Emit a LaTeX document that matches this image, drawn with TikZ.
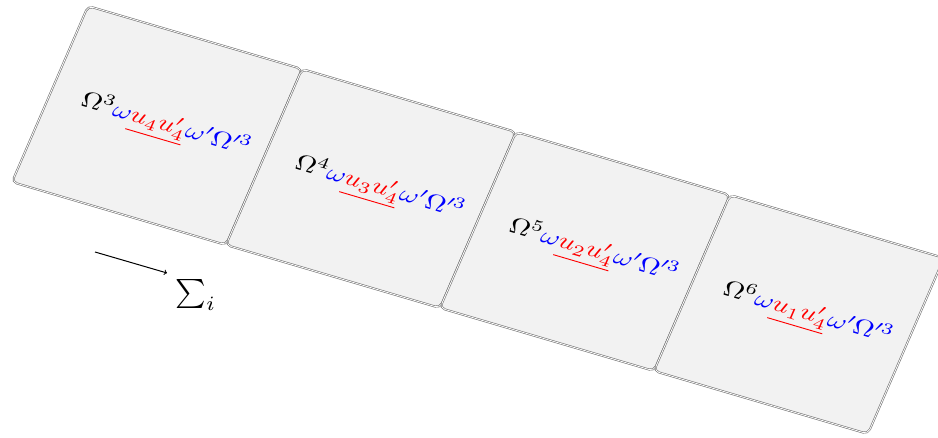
\documentclass[tikz,border=0pt]{standalone}
\usepackage{amsmath}
\begin{document}
\begin{tikzpicture}[x=1pt,y=1pt,
  panel/.style={draw=black!55, double=white, line width=0.6pt, double distance=0.8pt,
    fill=black!5, rounded corners=5pt, minimum width=77pt, minimum height=80pt,
    inner sep=0pt, outer sep=0pt},
  lbl/.style={inner sep=0pt, scale=0.97},
  arr/.style={->, line width=1pt, black}]
\useasboundingbox (0,0) rectangle (938,-438);
\begin{scope}[shift={(157,-125.5)}, cm={2.779,-0.818,0.95,2.2,(0,0)}, transform shape]
\node[panel] (p1) at (0,0) {};
\node[panel] (p2) at (77,0) {};
\node[panel] (p3) at (154,0) {};
\node[panel] (p4) at (231,0) {};
\node[lbl] (t1) at (2.7,0.5)
  {$\Omega^3\textcolor{blue}{\omega}\textcolor{red}{\underline{u_4u'_4}}\textcolor{blue}{\omega'\Omega'^3}$};
\node[lbl] (t2) at (79.7,0.5)
  {$\Omega^4\textcolor{blue}{\omega}\textcolor{red}{\underline{u_3u'_4}}\textcolor{blue}{\omega'\Omega'^3}$};
\node[lbl] (t3) at (156.7,0.5)
  {$\Omega^5\textcolor{blue}{\omega}\textcolor{red}{\underline{u_2u'_4}}\textcolor{blue}{\omega'\Omega'^3}$};
\node[lbl] (t4) at (233.7,0.5)
  {$\Omega^6\textcolor{blue}{\omega}\textcolor{red}{\underline{u_1u'_4}}\textcolor{blue}{\omega'\Omega'^3}$};
\end{scope}
\coordinate (a0) at (95,-252);
\coordinate (a1) at (167,-273);
\draw[arr] (a0) -- (a1);
\node[scale=2.9, inner sep=0pt] (sum) at (196,-295) {$\sum_i$};
\end{tikzpicture}
\end{document}
